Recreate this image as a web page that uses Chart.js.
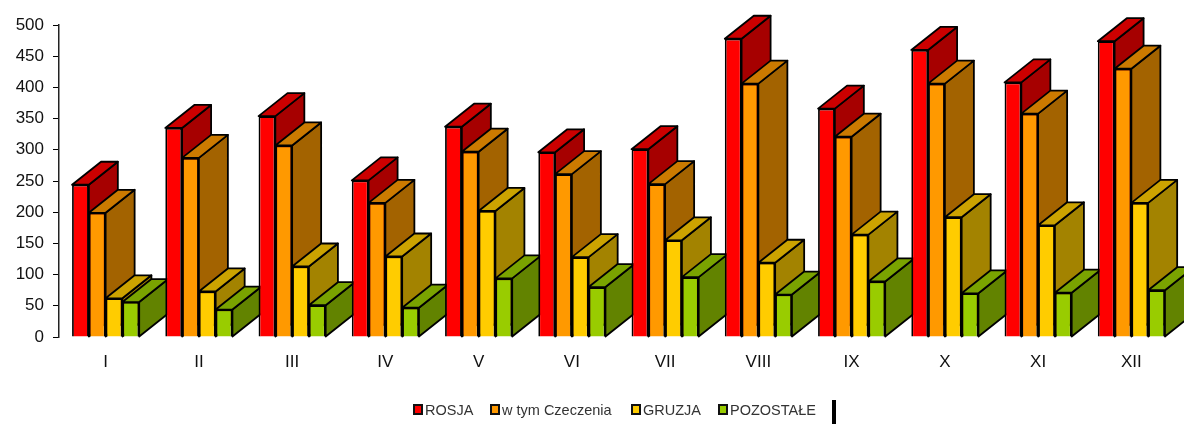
<!DOCTYPE html>
<html>
<head>
<meta charset="utf-8">
<style>
    html, body { margin: 0; padding: 0; background: #fff; }
    #wrap { width: 1184px; height: 424px; }
</style>
<script src="https://cdn.jsdelivr.net/npm/chart.js@4/dist/chart.umd.min.js"></script>
</head>
<body>
<div id="wrap"><canvas id="chart" width="1184" height="424"></canvas></div>
<script>
// Data
const months = ['I', 'II', 'III', 'IV', 'V', 'VI', 'VII', 'VIII', 'IX', 'X', 'XI', 'XII'];
const rosja = [244, 335, 354, 251, 337, 296, 301, 478, 366, 460, 408, 474];
const czeczenia = [199, 287, 307, 215, 297, 261, 245, 406, 321, 406, 358, 430];
const gruzja = [62, 73, 113, 129, 202, 128, 155, 119, 164, 192, 179, 215];
const pozostale = [56, 44, 51, 47, 94, 80, 96, 68, 89, 70, 71, 75];
const seriesNames = ['ROSJA', 'w tym Czeczenia', 'GRUZJA', 'POZOSTAŁE'];

// Face colours per series
const frontColors = ['#FF0000', '#FF9900', '#FFCC00', '#99CC00'];
const topColors = ['#CC0000', '#CC7A00', '#CCA300', '#7AA300'];
const sideColors = ['#A60000', '#A36300', '#A38300', '#628300'];

// Fake 3D depth
const DEPTH_X = 29;
const DEPTH_Y = -23;

function face(ctx, pts, color) {
    ctx.beginPath();
    pts.forEach((p, i) => i ? ctx.lineTo(p[0], p[1]) : ctx.moveTo(p[0], p[1]));
    ctx.closePath();
    ctx.fillStyle = color;
    ctx.fill();
    ctx.stroke();
}

// Draws the bars group by group so the side faces overlap the right way
const bars3d = {
    id: 'bars3d',
    beforeDatasetsDraw(chart) {
        const ctx = chart.ctx;
        ctx.save();
        ctx.lineWidth = 1.8;
        ctx.strokeStyle = '#000';
        ctx.lineJoin = 'round';
        months.forEach((m, i) => {
            chart.data.datasets.forEach((ds, d) => {
                const el = chart.getDatasetMeta(d).data[i];
                const left = el.x - el.width / 2;
                const right = el.x + el.width / 2;
                face(ctx, [[right, el.y], [right + DEPTH_X, el.y + DEPTH_Y],
                    [right + DEPTH_X, el.base + DEPTH_Y], [right, el.base]], sideColors[d]);
                face(ctx, [[left, el.y], [left + DEPTH_X, el.y + DEPTH_Y],
                    [right + DEPTH_X, el.y + DEPTH_Y], [right, el.y]], topColors[d]);
                el.draw(ctx);
            });
        });
        ctx.restore();
        return false;
    }
};

// Legend row along the bottom, spaced like the original
const legendRow = {
    id: 'legendRow',
    afterDraw(chart) {
        const ctx = chart.ctx;
        const startX = [414, 491, 632, 719];
        ctx.save();
        ctx.font = '14.5px "Liberation Sans", Arial, sans-serif';
        ctx.textBaseline = 'middle';
        seriesNames.forEach((name, i) => {
            ctx.fillStyle = frontColors[i];
            ctx.strokeStyle = '#111';
            ctx.lineWidth = 2;
            ctx.fillRect(startX[i], 405, 8, 9);
            ctx.strokeRect(startX[i], 405, 8, 9);
            ctx.fillStyle = '#333';
            ctx.fillText(name, startX[i] + 11, 410.5);
        });
        ctx.fillStyle = '#000';
        ctx.fillRect(832, 400, 4, 24);
        ctx.restore();
    }
};

const seriesValues = [rosja, czeczenia, gruzja, pozostale];

new Chart(document.getElementById('chart'), {
    type: 'bar',
    data: {
        labels: months,
        datasets: seriesValues.map((values, d) => ({
            label: seriesNames[d],
            data: values,
            backgroundColor: frontColors[d],
            borderColor: '#000',
            borderWidth: 1.8,
            barPercentage: 1,
            categoryPercentage: 0.72
        }))
    },
    options: {
        responsive: false,
        animation: false,
        layout: { padding: { top: 25, right: 6 } },
        plugins: {
            legend: { display: false },
            tooltip: { enabled: false }
        },
        scales: {
            x: {
                afterFit(scale) { scale.height = 87; },
                grid: { display: false },
                border: { display: false },
                ticks: {
                    padding: 7,
                    color: '#111',
                    maxRotation: 0,
                    font: { family: '"Liberation Sans", Arial, sans-serif', size: 17 }
                }
            },
            y: {
                min: 0,
                max: 500,
                afterFit(scale) { scale.width = 59; },
                grid: { drawOnChartArea: false, color: '#000', tickLength: 6 },
                border: { display: true, color: '#222', width: 1.5 },
                ticks: {
                    stepSize: 50,
                    padding: 9,
                    color: '#111',
                    font: { family: '"Liberation Sans", Arial, sans-serif', size: 17 }
                }
            }
        }
    },
    plugins: [bars3d, legendRow]
});
</script>
</body>
</html>
